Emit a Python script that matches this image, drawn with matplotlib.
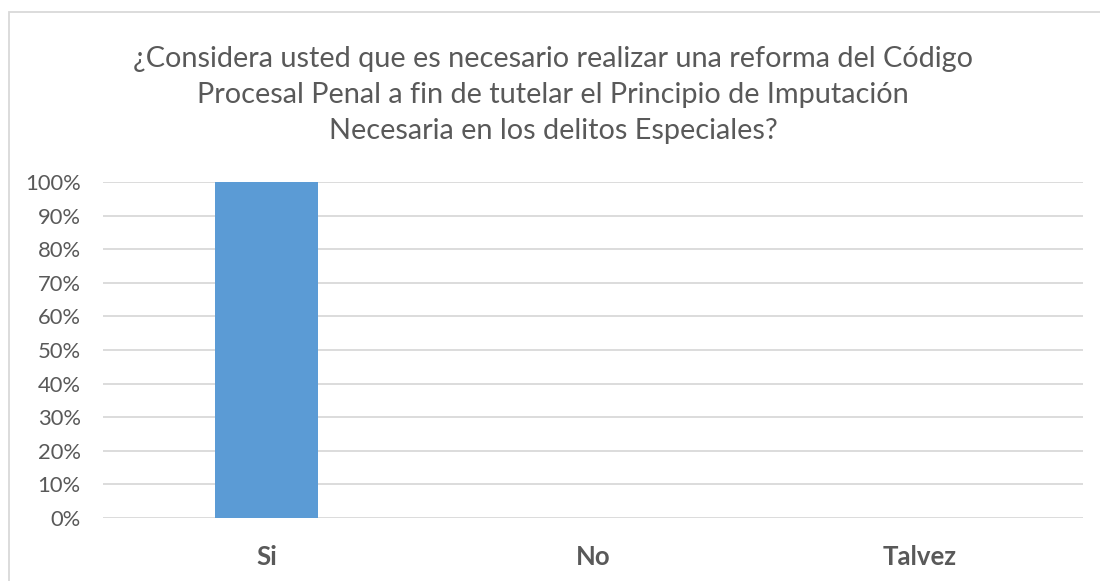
import matplotlib
matplotlib.use("Agg")
import matplotlib.pyplot as plt
from matplotlib.patches import Rectangle
from matplotlib.ticker import FuncFormatter

categories = ["Si", "No", "Talvez"]
values = [1.0, 0.0, 0.0]
yticks = [0, 0.1, 0.2, 0.3, 0.4, 0.5, 0.6, 0.7, 0.8, 0.9, 1.0]
title = ("¿Considera usted que es necesario realizar una reforma del Código\n"
         "Procesal Penal a fin de tutelar el Principio de Imputación\n"
         "Necesaria en los delitos Especiales?")

plt.rcParams["font.family"] = ["Lato", "DejaVu Sans"]
W, H = 1100, 581
fig = plt.figure(figsize=(W / 100, H / 100), dpi=100)
fig.patch.set_facecolor("white")

# chart frame (extends past right/bottom edges)
fig.add_artist(Rectangle((9 / W, -0.1), 1.2, 1 - 12 / H + 0.1,
                         transform=fig.transFigure, fill=False,
                         edgecolor="#D9D9D9", linewidth=1.3))

ax = fig.add_axes([103 / W, 1 - 518 / H, (1083 - 103) / W, (518 - 182) / H])
x = list(range(len(categories)))
ax.bar(x, values, width=0.315, color="#5B9BD5", zorder=3)
ax.set_xlim(-0.5, len(categories) - 0.5)
ax.set_ylim(0, 1.0)
ax.set_yticks(yticks)
ax.yaxis.set_major_formatter(FuncFormatter(lambda v, p: f"{v * 100:.0f}%"))
ax.set_xticks(x)
ax.set_xticklabels(categories, fontweight="bold")
for s in ax.spines.values():
    s.set_visible(False)
ax.grid(axis="y", color="#D9D9D9", linewidth=1.3, zorder=0)
ax.set_axisbelow(True)
ax.tick_params(axis="both", length=0, colors="#595959")
ax.tick_params(axis="y", pad=16, labelsize=15.8)
ax.tick_params(axis="x", pad=19.5, labelsize=18.5)

fig.text(553 / W, 1 - 95 / H, title, ha="center", va="center",
         fontsize=20.8, color="#595959", linespacing=1.48)

fig.savefig("out.png", dpi=100)
